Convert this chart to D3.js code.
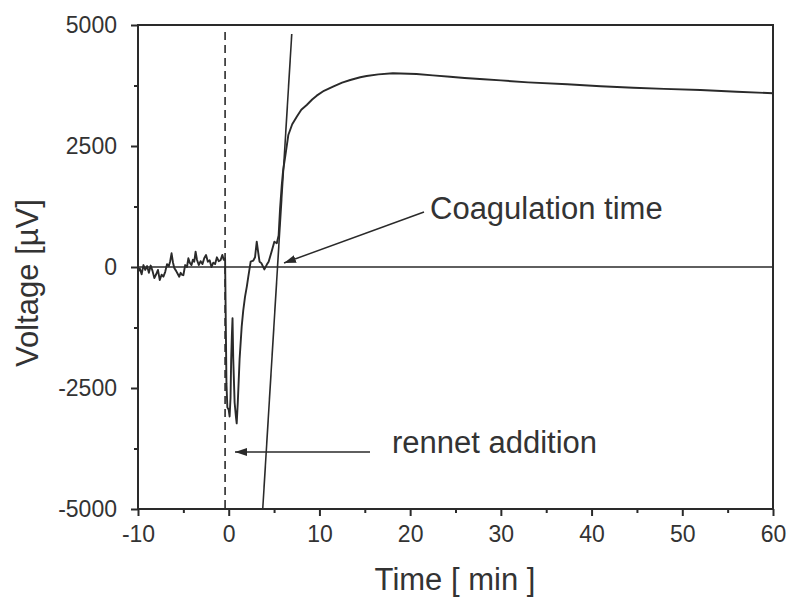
<!DOCTYPE html>
<html>
<head>
<meta charset="utf-8">
<script src="https://cdn.jsdelivr.net/npm/d3@7"></script>
<style>
  body { margin: 0; background: #fff; }
  text { font-family: "Liberation Sans", Arial, sans-serif; fill: #333; }
</style>
</head>
<body>
<script>
// coagulation curve
let timeMin = [-10, -9.8, -9.6, -9.4, -9.2, -9.0, -8.8, -8.6, -8.4, -8.2, -8.0, -7.8, -7.6, -7.4, -7.2, -7.0,
  -6.8, -6.6, -6.45, -6.3, -6.15, -6.0, -5.8, -5.6, -5.45, -5.3, -5.15, -5.0, -4.8, -4.6, -4.45, -4.3, -4.1,
  -3.95, -3.8, -3.65, -3.5, -3.3, -3.1, -2.9, -2.7, -2.5, -2.3, -2.1, -1.9, -1.7, -1.5, -1.3, -1.1, -0.9,
  -0.7, -0.55, -0.4, -0.35, -0.25, -0.15, 0.0, 0.1, 0.2, 0.27, 0.35, 0.42, 0.5, 0.65, 0.8, 0.88, 1.0, 1.2,
  1.43, 1.6, 1.8, 2.0, 2.16, 2.42, 2.7, 2.9, 3.09, 3.25, 3.4, 3.6, 3.93, 4.2, 4.4, 4.7, 5.03, 5.3, 5.5,
  5.66, 5.85, 6.0, 6.2, 6.57, 7.0, 7.5, 8.0, 8.6, 9.2, 9.7, 10.5, 11.5, 12.5, 13.4, 14.5, 15.2, 16.5,
  18.1, 20.7, 22.5, 24.4, 26, 28.1, 30, 33, 37.3, 41, 44.6, 48, 52, 56, 60];
let voltage = [-100, -30, -150, 40, -60, 20, -120, 30, -80, -230, -150, -60, -270, -160, -200, -100,
  60, 20, 120, 283, 100, -20, -80, -150, -200, -120, -160, -170, 40, 0, 180, 90, 40,
  150, 110, 316, 150, 40, 120, 60, 180, 248, 110, 140, 0, 90, 60, 200, 120, 140,
  250, 150, 180, -700, -2400, -2900, -2950, -3090, -2700, -1920, -1400, -1060, -1900, -2800, -3100, -3230, -2800, -1900,
  -1233, -900, -613, -400, -200, 110, 130, 200, 523, 300, 110, 80, -50, 50, 110, 300, 523, 490, 650,
  1200, 1700, 2000, 2245, 2727, 2950, 3105, 3250, 3347, 3460, 3540, 3640, 3726, 3810, 3864, 3920, 3946, 3980,
  4002, 3988, 3960, 3932, 3905, 3878, 3855, 3815, 3775, 3735, 3705, 3680, 3657, 3620, 3590];

// tangent at coagulation and rennet addition marker
let tangentT = [3.75, 6.95];
let tangentV = [-5000, 4814];
let rennetT = -0.4;

let xTicks = [-10, 0, 10, 20, 30, 40, 50, 60];
let xMinor = [-5, 5, 15, 25, 35, 45, 55];
let yTicks = [-5000, -2500, 0, 2500, 5000];
let yMinor = [-3750, -1250, 1250, 3750];

let width = 788, height = 599;
let plotL = 138, plotR = 773, plotT = 25, plotB = 509;

let svg = d3.select('body').append('svg').attr('width', width).attr('height', height);

let x = d3.scaleLinear().domain([-10, 60]).range([plotL, plotR]);
let y = d3.scaleLinear().domain([-5000, 5000]).range([plotB, plotT]);

let ink = '#2a2a2a';

svg.append('defs').append('marker')
  .attr('id', 'head').attr('viewBox', '0 0 12 8')
  .attr('refX', 12).attr('refY', 4)
  .attr('markerWidth', 12).attr('markerHeight', 8)
  .attr('markerUnits', 'userSpaceOnUse')
  .attr('orient', 'auto')
  .append('path').attr('d', 'M0,0 L12,4 L0,8 Z').attr('fill', ink);

// zero line
svg.append('line')
  .attr('x1', x(-10)).attr('x2', x(60))
  .attr('y1', y(0)).attr('y2', y(0))
  .attr('stroke', ink).attr('stroke-width', 1.5);

// rennet addition dashed marker
svg.append('line')
  .attr('x1', x(rennetT)).attr('x2', x(rennetT))
  .attr('y1', plotT + 7).attr('y2', plotB)
  .attr('stroke', ink).attr('stroke-width', 1.6)
  .attr('stroke-dasharray', '8,5');

// tangent
svg.append('line')
  .attr('x1', x(tangentT[0])).attr('y1', y(tangentV[0]))
  .attr('x2', x(tangentT[1])).attr('y2', y(tangentV[1]))
  .attr('stroke', ink).attr('stroke-width', 1.6);

let line = d3.line().x(d => x(d[0])).y(d => y(d[1]));
svg.append('path')
  .datum(d3.zip(timeMin, voltage))
  .attr('d', line)
  .attr('fill', 'none').attr('stroke', ink).attr('stroke-width', 1.9)
  .attr('stroke-linejoin', 'round');

// axes (plain hyphen for negatives, like the original)
let fmt = d => String(d);
svg.append('g').attr('transform', `translate(0,${plotB})`)
  .call(d3.axisBottom(x).tickValues(xTicks).tickSize(7).tickPadding(10).tickFormat(fmt));
svg.append('g').attr('transform', `translate(0,${plotB})`)
  .call(d3.axisBottom(x).tickValues(xMinor).tickSize(4).tickFormat(''));
svg.append('g').attr('transform', `translate(${plotL},0)`)
  .call(d3.axisLeft(y).tickValues(yTicks).tickSize(7).tickPadding(14).tickFormat(fmt));
svg.append('g').attr('transform', `translate(${plotL},0)`)
  .call(d3.axisLeft(y).tickValues(yMinor).tickSize(4).tickFormat(''));

svg.selectAll('.domain').remove();
svg.selectAll('.tick line').attr('stroke', ink).attr('stroke-width', 2);
svg.selectAll('.tick text').style('font-size', '23px').attr('fill', '#333');

// frame
svg.append('rect')
  .attr('x', plotL).attr('y', plotT)
  .attr('width', plotR - plotL).attr('height', plotB - plotT)
  .attr('fill', 'none').attr('stroke', ink).attr('stroke-width', 2);

// axis titles
svg.append('text').attr('x', 455).attr('y', 590)
  .attr('text-anchor', 'middle').style('font-size', '31px').text('Time [ min ]');
svg.append('text').attr('transform', 'translate(38,283) rotate(-90)')
  .attr('text-anchor', 'middle').style('font-size', '31px').text('Voltage [µV]');

// annotations
svg.append('text').attr('x', 430).attr('y', 219).style('font-size', '31px').text('Coagulation time');
svg.append('line')
  .attr('x1', 424).attr('y1', 212).attr('x2', 284).attr('y2', 263)
  .attr('stroke', ink).attr('stroke-width', 1.5).attr('marker-end', 'url(#head)');

svg.append('text').attr('x', 392).attr('y', 453).style('font-size', '31px').text('rennet addition');
svg.append('line')
  .attr('x1', 370).attr('y1', 452).attr('x2', 235).attr('y2', 452)
  .attr('stroke', ink).attr('stroke-width', 1.5).attr('marker-end', 'url(#head)');
</script>
</body>
</html>
